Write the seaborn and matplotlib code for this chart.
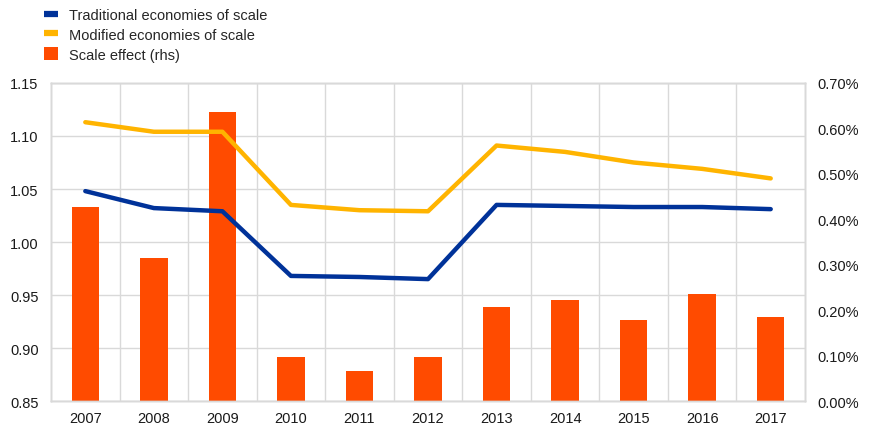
import numpy as np
import pandas as pd
import matplotlib
matplotlib.use("Agg")
import matplotlib.pyplot as plt
from matplotlib.lines import Line2D
from matplotlib.patches import Patch
from matplotlib.ticker import FuncFormatter, FixedLocator
import seaborn as sns

years = [2007, 2008, 2009, 2010, 2011, 2012, 2013, 2014, 2015, 2016, 2017]
traditional = [1.048, 1.032, 1.029, 0.968, 0.967, 0.965, 1.035, 1.034, 1.033, 1.033, 1.031]
modified = [1.113, 1.104, 1.104, 1.035, 1.030, 1.029, 1.091, 1.085, 1.075, 1.069, 1.060]
scale_effect = [0.427, 0.314, 0.637, 0.097, 0.066, 0.097, 0.207, 0.222, 0.178, 0.235, 0.184]  # percent
left_ticks = [0.85, 0.90, 0.95, 1.00, 1.05, 1.10, 1.15]
right_ticks = [0.0, 0.1, 0.2, 0.3, 0.4, 0.5, 0.6, 0.7]

labels = ["Traditional economies of scale", "Modified economies of scale", "Scale effect (rhs)"]
BLUE, YELLOW, ORANGE = "#003299", "#FFB400", "#FF4B00"
GRID = "#d9d9d9"

df = pd.DataFrame({"year": years, "trad": traditional, "mod": modified, "scale": scale_effect})

sns.set_style("white")
plt.rcParams["font.family"] = ["Liberation Sans", "DejaVu Sans"]

fig = plt.figure(figsize=(8.71, 4.27), dpi=100)
ax = fig.add_axes([0.0586, 0.0585, 0.9242 - 0.0586, 0.8033 - 0.0585])
ax2 = ax.twinx()
ax3 = ax.twinx()

# bars on right scale
sns.barplot(data=df, x="year", y="scale", ax=ax2, color=ORANGE, native_scale=True,
            width=0.4, saturation=1, linewidth=0)
# lines on left scale
sns.lineplot(data=df, x="year", y="trad", ax=ax3, color=BLUE, linewidth=3.2)
sns.lineplot(data=df, x="year", y="mod", ax=ax3, color=YELLOW, linewidth=3.2)

for a in (ax, ax2, ax3):
    a.set_xlim(years[0] - 0.5, years[-1] + 0.5)
    a.set_xlabel("")
    a.set_ylabel("")
    for s in a.spines.values():
        s.set_color(GRID)
        s.set_linewidth(1)

ax.set_ylim(0.85, 1.15)
ax3.set_ylim(0.85, 1.15)
ax2.set_ylim(0, 0.7)

ax.yaxis.set_major_locator(FixedLocator(left_ticks))
ax.yaxis.set_major_formatter(FuncFormatter(lambda v, p: f"{v:.2f}"))
ax2.yaxis.set_major_locator(FixedLocator(right_ticks))
ax2.yaxis.set_major_formatter(FuncFormatter(lambda v, p: f"{v:.2f}%"))
ax3.set_yticks([])
ax3.tick_params(axis="both", length=0, labelleft=False, labelright=False, labelbottom=False)

ax.set_xticks(years)
ax.set_xticklabels([str(y) for y in years])
ax.xaxis.set_minor_locator(FixedLocator([y + 0.5 for y in years[:-1]]))
ax.grid(True, which="minor", axis="x", color=GRID, linewidth=1)
ax.grid(True, which="major", axis="y", color=GRID, linewidth=1)
ax.grid(False, which="major", axis="x")
ax2.grid(False)
ax3.grid(False)

ax.tick_params(axis="both", which="both", length=0, labelsize=10.5, colors="#1a1a1a")
ax.tick_params(axis="y", pad=9)
ax.tick_params(axis="x", pad=7)
ax2.tick_params(axis="y", length=0, labelsize=10.5, colors="#1a1a1a", pad=9)
ax2.tick_params(axis="x", labelbottom=False, length=0)

handles = [Line2D([], [], color=BLUE, linewidth=4.5, solid_capstyle="butt"),
           Line2D([], [], color=YELLOW, linewidth=4.5, solid_capstyle="butt"),
           Patch(facecolor=ORANGE, edgecolor="none")]
fig.legend(handles, labels, loc="upper left", bbox_to_anchor=(0.041, 1.0),
           frameon=False, fontsize=10.5, handlelength=0.9, handleheight=1.0,
           handletextpad=0.8, labelspacing=0.35, borderaxespad=0.2)

fig.savefig("out.png", dpi=100)
